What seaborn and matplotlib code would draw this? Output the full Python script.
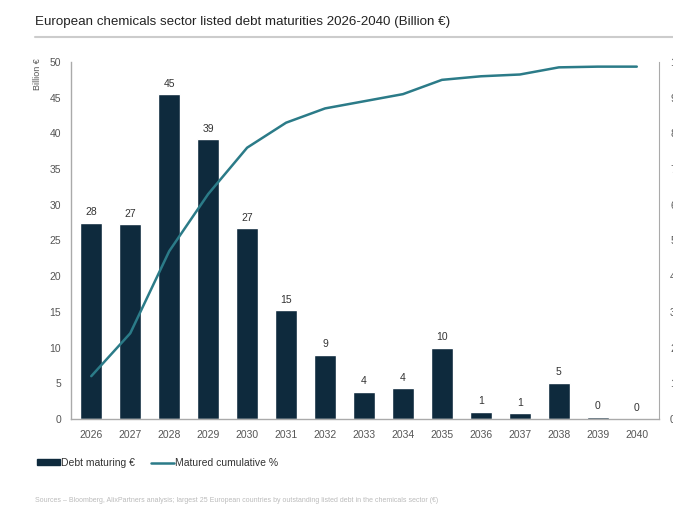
import numpy as np
import matplotlib
matplotlib.use("Agg")
import matplotlib.pyplot as plt
import seaborn as sns
from matplotlib.patches import Patch
from matplotlib.lines import Line2D

years = ["2026", "2027", "2028", "2029", "2030", "2031", "2032", "2033",
         "2034", "2035", "2036", "2037", "2038", "2039", "2040"]
debt = [27.5, 27.3, 45.5, 39.2, 26.7, 15.2, 9.0, 3.8, 4.3, 10.0, 1.0, 0.8, 5.1, 0.3, 0.0]
labels = ["28", "27", "45", "39", "27", "15", "9", "4", "4", "10", "1", "1", "5", "0", "0"]
cum_pct = [12, 24, 47, 63, 76, 83, 87, 89, 91, 95, 96, 96.5, 98.5, 98.7, 98.7]
left_ticks = [0, 5, 10, 15, 20, 25, 30, 35, 40, 45, 50]
right_ticks = [0, 10, 20, 30, 40, 50, 60, 70, 80, 90, 100]

sns.set_style("white")
plt.rcParams["font.family"] = ["Liberation Sans", "DejaVu Sans"]

BAR = "#0e2a3d"
LINE = "#2b7b88"
GREY = "#555555"

fig = plt.figure(figsize=(6.73, 5.07), dpi=100)
W, H = 673, 507
ax = fig.add_axes([71 / W, 1 - 419 / H, (659 - 71) / W, (419 - 62) / H])

sns.barplot(x=years, y=debt, color=BAR, width=0.56, saturation=1, ax=ax)
ax.set_xlim(-0.52, len(years) - 1 + 0.57)
ax.set_ylim(0, 50)
ax.set_yticks(left_ticks)
ax.set_yticklabels([str(t) for t in left_ticks], fontsize=7.5, color=GREY)
ax.tick_params(axis="x", labelsize=7.5, labelcolor=GREY, length=0, pad=8)
ax.tick_params(axis="y", length=0, pad=7)
ax.set_xlabel("")
ax.set_ylabel("")
for s in ["top", "right"]:
    ax.spines[s].set_visible(False)
for s in ["left", "bottom"]:
    ax.spines[s].set_color("#aaaaaa")
    ax.spines[s].set_linewidth(1.0)

for i, (v, lab) in enumerate(zip(debt, labels)):
    ax.annotate(lab, (i, v), xytext=(0, 4), textcoords="offset points",
                ha="center", va="bottom", fontsize=7.5, color="#333333")

ax2 = ax.twinx()
sns.lineplot(x=np.arange(len(years)), y=cum_pct, color=LINE, linewidth=1.8, ax=ax2)
ax2.set_ylim(0, 100)
ax2.set_yticks(right_ticks)
ax2.set_yticklabels([f"{t}%" for t in right_ticks], fontsize=7.5, color=GREY)
ax2.tick_params(axis="y", length=0, pad=8)
ax2.set_xlim(ax.get_xlim())
for s in ["top", "left", "bottom"]:
    ax2.spines[s].set_visible(False)
ax2.spines["right"].set_color("#aaaaaa")
ax2.set_ylabel("")

fig.text(38 / W, 1 - 74 / H, "Billion €", rotation=90, fontsize=6.5, color=GREY,
         ha="center", va="center")

fig.text(35 / W, 1 - 22 / H, "European chemicals sector listed debt maturities 2026-2040 (Billion €)",
         fontsize=9.6, color="#222222", ha="left", va="center")
fig.add_artist(Line2D([35 / W, 1.0], [1 - 37 / H, 1 - 37 / H], color="#cccccc", linewidth=1.5,
                      transform=fig.transFigure))

handles = [Patch(facecolor=BAR, edgecolor=BAR),
           Line2D([0], [0], color=LINE, linewidth=1.8)]
fig.legend(handles, ["Debt maturing €", "Matured cumulative %"], loc="center left",
           bbox_to_anchor=(28 / W, 1 - 463 / H), ncol=2, frameon=False, fontsize=7.5,
           handlelength=2.2, handleheight=0.5, handletextpad=0.1, columnspacing=1.5,
           labelcolor="#333333")

fig.text(35 / W, 1 - 500 / H,
         "Sources – Bloomberg, AlixPartners analysis; largest 25 European countries by outstanding listed debt in the chemicals sector (€)",
         fontsize=5, color="#bbbbbb", ha="left", va="center")

fig.savefig("out.png", dpi=100)
